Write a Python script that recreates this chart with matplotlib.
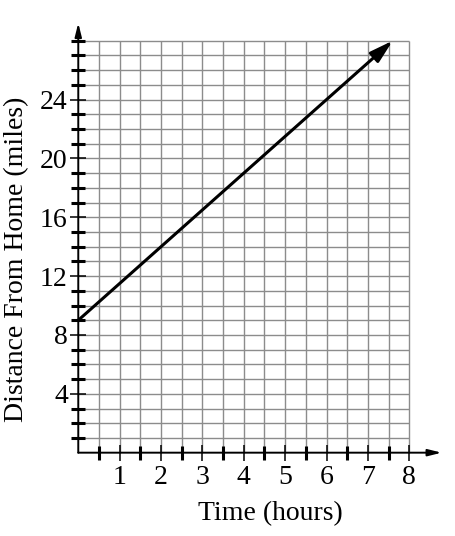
import numpy as np
import matplotlib
matplotlib.use('Agg')
import matplotlib.pyplot as plt

# data
hours = [0, 7.6]          # start and end of the drawn line
miles = [9, 28]
x_ticks = [1, 2, 3, 4, 5, 6, 7, 8]
y_ticks = [4, 8, 12, 16, 20, 24]
x_tick_labels = ['1', '2', '3', '4', '5', '6', '7', '8']
y_tick_labels = ['4', '8', '12', '16', '20', '24']

plt.rcParams['font.family'] = ['Liberation Serif', 'DejaVu Serif']

fig = plt.figure(figsize=(4.56, 5.36), dpi=100)
ax = fig.add_axes([0.1535, 0.128, 0.8349, 0.851])
ax.set_xlim(-0.2, 9.0)
ax.set_ylim(-1, 30)

# graph paper grid
grid_col = '#8c8c8c'
ax.vlines(np.arange(0.5, 8.01, 0.5), 0, 28, colors=grid_col, lw=1.0, zorder=1)
ax.hlines(np.arange(1, 28.01, 1), 0, 8, colors=grid_col, lw=1.0, zorder=1)

# axes with arrow heads
for sp in ax.spines.values():
    sp.set_visible(False)
ax.spines['left'].set_position(('data', 0))
ax.spines['bottom'].set_position(('data', 0))
axis_arrow = dict(arrowstyle='-|>,head_length=0.8,head_width=0.2', lw=1.4,
                  color='black', mutation_scale=10, shrinkA=0, shrinkB=0)
ax.annotate('', xy=(8.78, 0), xytext=(0, 0), arrowprops=axis_arrow, zorder=4)
ax.annotate('', xy=(0, 29.2), xytext=(0, 0), arrowprops=axis_arrow, zorder=4)

# ticks: labelled ones thin, the others bold
ax.set_xticks(x_ticks)
ax.set_xticklabels(x_tick_labels)
ax.set_xticks([t + 0.5 for t in range(8)], minor=True)
ax.set_yticks(y_ticks)
ax.set_yticklabels(y_tick_labels)
ax.set_yticks([t for t in range(1, 29) if t % 4 != 0 or t > 24], minor=True)
ax.tick_params(which='major', direction='inout', length=11, width=1.1,
               color='black', labelsize=20, zorder=5)
ax.tick_params(axis='x', which='major', pad=3.5)
ax.tick_params(axis='y', which='major', pad=2)
ax.tick_params(which='minor', direction='inout', length=9.5, width=2.2,
               color='black', zorder=5)

# the line
ax.annotate('', xy=(hours[1], miles[1]), xytext=(hours[0], miles[0]),
            arrowprops=dict(arrowstyle='-|>,head_length=0.7,head_width=0.2',
                            lw=2.2, color='black', mutation_scale=20,
                            shrinkA=0, shrinkB=0), zorder=6)

fig.text(270 / 456, (536 - 520) / 536, 'Time (hours)', fontsize=20,
         ha='center', va='baseline')
fig.text(23.5 / 456, (536 - 259) / 536, 'Distance From Home (miles)', fontsize=20,
         rotation=90, rotation_mode='anchor', ha='center', va='baseline')

fig.savefig('out.png', dpi=100)
